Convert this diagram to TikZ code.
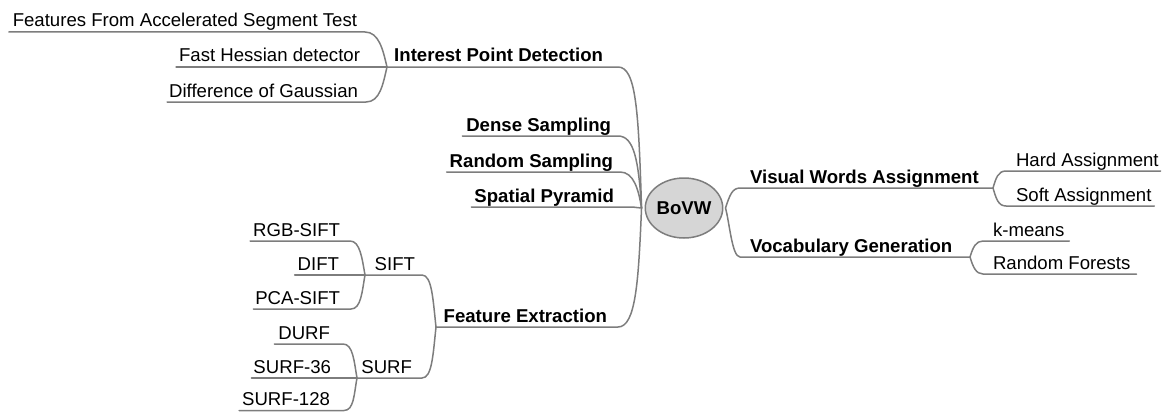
\documentclass[tikz,border=0pt]{standalone}
\usepackage{fontspec}
\setmainfont{Liberation Sans}
\usetikzlibrary{shapes.geometric}

\definecolor{linkgray}{RGB}{125,125,125}
\definecolor{hubfill}{RGB}{214,214,214}

\tikzset{
  leaf/.style={inner xsep=0pt, inner ysep=5pt, text depth=0pt, outer sep=0pt,
    font=\fontsize{18.6}{22}\selectfont, text=black},
  topic/.style={leaf, font=\fontsize{18.6}{22}\selectfont\bfseries},
  lside/.style={anchor=south east},
  rside/.style={anchor=south west},
  link/.style={draw=linkgray, line width=1.5pt, line cap=round, line join=round},
  hub/.style={ellipse, draw=linkgray, line width=1.5pt, fill=hubfill,
    minimum width=74pt, minimum height=60pt, inner sep=0pt,
    font=\fontsize{18.6}{22}\selectfont\bfseries}
}

\begin{document}
\begin{tikzpicture}[x=1pt, y=-1pt]
\useasboundingbox (0,0) rectangle (1174,412);

% central topic
\node[hub] (bovw) at (684,208) {BoVW};
\coordinate (hubL) at ([xshift=-3pt]bovw.west);
\coordinate (hubR) at ([xshift=2pt]bovw.east);

% junctions where sub-branches meet
\coordinate (jIPD)  at (387,67);
\coordinate (jFE)   at (436,327);
\coordinate (jSIFT) at (365,275);
\coordinate (jSURF) at (357,378);
\coordinate (jVWA)  at (993,188);
\coordinate (jVG)   at (970,257);

% left-hand topics
\node[topic, lside] (ipd)     at (603,67)  {Interest Point Detection};
\node[topic, lside] (dense)   at (611,136) {Dense Sampling};
\node[topic, lside] (random)  at (613,172) {Random Sampling};
\node[topic, lside] (spatial) at (614,207) {Spatial Pyramid};
\node[topic, lside] (fe)      at (607,327) {Feature Extraction};

\node[leaf, lside] (fast)    at (357,32)  {Features From Accelerated Segment Test};
\node[leaf, lside] (hessian) at (360,67)  {Fast Hessian detector};
\node[leaf, lside] (dog)     at (358,102) {Difference of Gaussian};

\node[leaf, lside] (sift)    at (415,275) {SIFT};
\node[leaf, lside] (surf)    at (412,378) {SURF};
\node[leaf, lside] (rgb)     at (340,241) {RGB-SIFT};
\node[leaf, lside] (dift)    at (339,275) {DIFT};
\node[leaf, lside] (pca)     at (340,309) {PCA-SIFT};
\node[leaf, lside] (durf)    at (330,344) {DURF};
\node[leaf, lside] (surf36)  at (331,378) {SURF-36};
\node[leaf, lside] (surf128) at (330,410.5) {SURF-128};

% right-hand topics
\node[topic, rside] (vwa) at (750,188) {Visual Words Assignment};
\node[topic, rside] (vg)  at (750,257) {Vocabulary Generation};

\node[leaf, rside] (hard)   at (1016,171) {Hard Assignment};
\node[leaf, rside] (soft)   at (1016,206) {Soft Assignment};
\node[leaf, rside] (kmeans) at (993,241)  {k-means};
\node[leaf, rside] (rf)     at (993,274)  {Random Forests};

% interest point detectors
\draw[link] ([xshift=-4pt]fast.south west) -- ([xshift=8pt]fast.south east)
  .. controls +(14,0) and +(-4,-17) .. (jIPD);
\draw[link] ([xshift=-3pt]hessian.south west) -- (jIPD);
\draw[link] ([xshift=-2pt]dog.south west) -- ([xshift=8pt]dog.south east)
  .. controls +(14,0) and +(-4,17) .. (jIPD);

% main left branches into the hub
\draw[link] (jIPD) -- ([xshift=15pt]ipd.south east)
  .. controls +(18,0) and +(-3,-98) .. (hubL);
\draw[link] ([xshift=-4pt]dense.south west) -- ([xshift=7pt]dense.south east)
  .. controls +(16,0) and +(-3,-48) .. (hubL);
\draw[link] ([xshift=-3pt]random.south west) -- ([xshift=7pt]random.south east)
  .. controls +(14,0) and +(-3,-18) .. (hubL);
\draw[link] ([xshift=-3pt]spatial.south west) -- ([xshift=16pt]spatial.south east)
  .. controls +(6,0) and +(-4,0) .. (hubL);
\draw[link] (jFE) -- ([xshift=11pt]fe.south east)
  .. controls +(18,0) and +(-3,72) .. (hubL);

% feature descriptors
\draw[link] (jSIFT) -- ([xshift=7pt]sift.south east)
  .. controls +(10,0) and +(-3,-27) .. (jFE);
\draw[link] (jSURF) -- ([xshift=10pt]surf.south east)
  .. controls +(10,0) and +(-3,28) .. (jFE);

\draw[link] ([xshift=-3pt]rgb.south west) -- ([xshift=10pt]rgb.south east)
  .. controls +(10,0) and +(-3,-17) .. (jSIFT);
\draw[link] ([xshift=-3pt]dift.south west) -- (jSIFT);
\draw[link] ([xshift=-2pt]pca.south west) -- ([xshift=11pt]pca.south east)
  .. controls +(10,0) and +(-3,17) .. (jSIFT);

\draw[link] ([xshift=-4pt]durf.south west) -- ([xshift=13pt]durf.south east)
  .. controls +(10,0) and +(-3,-17) .. (jSURF);
\draw[link] ([xshift=-2pt]surf36.south west) -- (jSURF);
\draw[link] ([xshift=-3pt]surf128.south west) -- ([xshift=14pt]surf128.south east)
  .. controls +(10,0) and +(-3,16) .. (jSURF);

% right branches
\draw[link] (hubR) .. controls +(4,-12) and +(-8,0) .. ([xshift=-10pt]vwa.south west)
  -- (jVWA);
\draw[link] (hubR) .. controls +(4,14) and +(-8,0) .. ([xshift=-10pt]vg.south west)
  -- (jVG);

\draw[link] (jVWA) .. controls +(3,-10) and +(-8,0) .. ([xshift=-10pt]hard.south west)
  -- ([xshift=2pt]hard.south east);
\draw[link] (jVWA) .. controls +(3,10) and +(-8,0) .. ([xshift=-10pt]soft.south west)
  -- ([xshift=3pt]soft.south east);
\draw[link] (jVG) .. controls +(3,-10) and +(-7,0) .. ([xshift=-10pt]kmeans.south west)
  -- ([xshift=5pt]kmeans.south east);
\draw[link] (jVG) .. controls +(3,10) and +(-7,0) .. ([xshift=-10pt]rf.south west)
  -- ([xshift=6pt]rf.south east);
\end{tikzpicture}
\end{document}
